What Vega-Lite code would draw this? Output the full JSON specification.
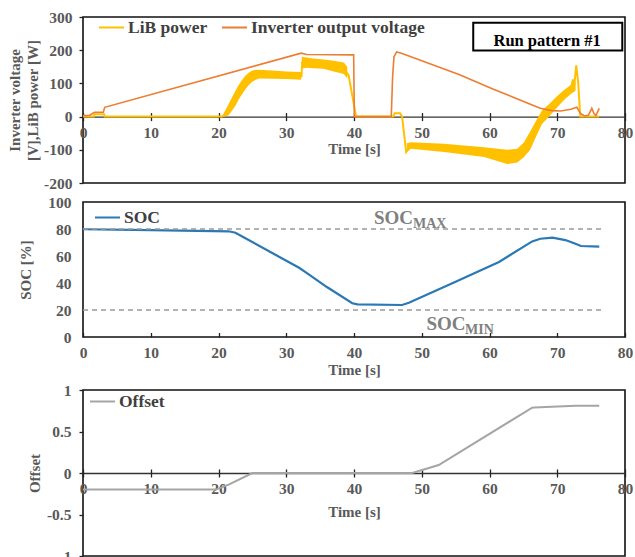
{
  "$schema": "https://vega.github.io/schema/vega-lite/v6.json",
  "background": "white",
  "padding": {"left": 6, "top": 9, "right": 0, "bottom": 0},
  "bounds": "flush",
  "spacing": 19,
  "config": {
    "font": "Liberation Serif",
    "view": {"stroke": "#111111", "strokeWidth": 1.6},
    "axis": {
      "grid": false,
      "labelFont": "Liberation Serif",
      "labelFontWeight": "bold",
      "labelFontSize": 15.5,
      "labelColor": "#595959",
      "titleFont": "Liberation Serif",
      "titleFontWeight": "bold",
      "titleFontSize": 15,
      "titleColor": "#595959",
      "tickColor": "#222222",
      "tickWidth": 1.3,
      "domainColor": "#333333",
      "domainWidth": 1.3,
      "labelOverlap": false,
      "labelBound": false
    },
    "legend": {
      "labelFont": "Liberation Serif",
      "labelFontWeight": "bold",
      "labelFontSize": 17.5,
      "labelColor": "#404040",
      "labelLimit": 400,
      "symbolType": "stroke",
      "symbolSize": 625,
      "symbolStrokeWidth": 2,
      "padding": 0,
      "labelOffset": 3,
      "title": null
    }
  },
  "datasets": {
    "band": [
      {"seg": "a", "t": 20.5, "lo": 0, "hi": 0},
      {"seg": "a", "t": 21, "lo": 0, "hi": 18},
      {"seg": "a", "t": 21.5, "lo": 4, "hi": 38},
      {"seg": "a", "t": 22, "lo": 18, "hi": 58},
      {"seg": "a", "t": 22.5, "lo": 33, "hi": 78},
      {"seg": "a", "t": 23, "lo": 52, "hi": 96},
      {"seg": "a", "t": 23.5, "lo": 68, "hi": 111},
      {"seg": "a", "t": 24, "lo": 83, "hi": 124},
      {"seg": "a", "t": 24.5, "lo": 96, "hi": 133},
      {"seg": "a", "t": 25, "lo": 105, "hi": 139},
      {"seg": "a", "t": 25.5, "lo": 111, "hi": 141},
      {"seg": "a", "t": 26, "lo": 115, "hi": 141},
      {"seg": "a", "t": 28, "lo": 114, "hi": 139},
      {"seg": "a", "t": 30, "lo": 113, "hi": 136},
      {"seg": "a", "t": 32.2, "lo": 111, "hi": 134},
      {"seg": "a", "t": 32.3, "lo": 145, "hi": 180},
      {"seg": "a", "t": 33, "lo": 147, "hi": 178},
      {"seg": "a", "t": 34, "lo": 146, "hi": 175},
      {"seg": "a", "t": 35.5, "lo": 144, "hi": 172},
      {"seg": "a", "t": 37, "lo": 136, "hi": 168},
      {"seg": "a", "t": 38.5, "lo": 128, "hi": 163},
      {"seg": "a", "t": 39, "lo": 115, "hi": 150},
      {"seg": "b", "t": 47.8, "lo": -107, "hi": -80},
      {"seg": "b", "t": 48.4, "lo": -97, "hi": -77},
      {"seg": "b", "t": 53.3, "lo": -107, "hi": -82},
      {"seg": "b", "t": 59.2, "lo": -122, "hi": -92},
      {"seg": "b", "t": 62.6, "lo": -143, "hi": -100},
      {"seg": "b", "t": 64.1, "lo": -138, "hi": -97},
      {"seg": "b", "t": 65.1, "lo": -122, "hi": -77},
      {"seg": "b", "t": 66, "lo": -100, "hi": -45},
      {"seg": "b", "t": 67, "lo": -55, "hi": -8},
      {"seg": "b", "t": 67.75, "lo": -22, "hi": 18},
      {"seg": "b", "t": 69, "lo": 5, "hi": 42},
      {"seg": "b", "t": 70, "lo": 28, "hi": 62},
      {"seg": "b", "t": 71, "lo": 50, "hi": 80},
      {"seg": "b", "t": 72, "lo": 68, "hi": 95},
      {"seg": "b", "t": 72.7, "lo": 78, "hi": 105}
    ],
    "lib": [
      {"t": 0, "p": 0}, {"t": 1.6, "p": 0}, {"t": 1.7, "p": 7}, {"t": 3.1, "p": 7}, {"t": 3.2, "p": 0},
      {"t": 20.5, "p": 0}, {"t": 21, "p": 8}, {"t": 21.5, "p": 20}, {"t": 22, "p": 38}, {"t": 22.5, "p": 55},
      {"t": 23, "p": 74}, {"t": 23.5, "p": 90}, {"t": 24, "p": 104}, {"t": 24.5, "p": 115}, {"t": 25, "p": 122},
      {"t": 25.5, "p": 126}, {"t": 26, "p": 128}, {"t": 30, "p": 125}, {"t": 32.25, "p": 122}, {"t": 32.35, "p": 162},
      {"t": 35, "p": 158}, {"t": 38.5, "p": 146}, {"t": 39.2, "p": 125}, {"t": 40.3, "p": 0}, {"t": 45.8, "p": 0},
      {"t": 46, "p": 10}, {"t": 46.8, "p": 10}, {"t": 47.1, "p": 0}, {"t": 47.7, "p": -107}, {"t": 48.4, "p": -87},
      {"t": 53.3, "p": -95}, {"t": 59.2, "p": -107}, {"t": 62.6, "p": -121}, {"t": 64.1, "p": -118}, {"t": 65.1, "p": -100},
      {"t": 66, "p": -72}, {"t": 67, "p": -32}, {"t": 67.75, "p": -2}, {"t": 69, "p": 24}, {"t": 70, "p": 45},
      {"t": 71, "p": 65}, {"t": 72, "p": 82}, {"t": 72.3, "p": 112}, {"t": 72.5, "p": 92}, {"t": 72.8, "p": 154},
      {"t": 73.1, "p": 100}, {"t": 73.4, "p": 0}, {"t": 76.2, "p": 0}
    ],
    "inv": [
      {"t": 0, "v": 3}, {"t": 1, "v": 4}, {"t": 1.7, "v": 13}, {"t": 3.0, "v": 13}, {"t": 3.2, "v": 28},
      {"t": 32.2, "v": 191}, {"t": 33, "v": 187}, {"t": 39.95, "v": 186}, {"t": 40.05, "v": 0}, {"t": 45.5, "v": 0},
      {"t": 45.7, "v": 120}, {"t": 45.9, "v": 180}, {"t": 46.3, "v": 195}, {"t": 47, "v": 191}, {"t": 55.5, "v": 127},
      {"t": 60.4, "v": 84}, {"t": 66.3, "v": 35}, {"t": 67.5, "v": 25}, {"t": 69.2, "v": 18}, {"t": 70.5, "v": 17},
      {"t": 72, "v": 22}, {"t": 72.9, "v": 28}, {"t": 73.4, "v": 10}, {"t": 74, "v": 2}, {"t": 74.6, "v": 4},
      {"t": 75.1, "v": 25}, {"t": 75.4, "v": 10}, {"t": 75.7, "v": 3}, {"t": 76.2, "v": 25}
    ],
    "soc": [
      {"t": 0, "s": 79.8}, {"t": 10, "s": 79.2}, {"t": 21.5, "s": 78.3}, {"t": 22.5, "s": 77.2}, {"t": 23.5, "s": 74.5},
      {"t": 28, "s": 62}, {"t": 31.9, "s": 51.3}, {"t": 33, "s": 47.5}, {"t": 36, "s": 37}, {"t": 39.75, "s": 25},
      {"t": 40.5, "s": 24.2}, {"t": 47.1, "s": 23.7}, {"t": 48.1, "s": 25.4}, {"t": 55, "s": 41}, {"t": 61.4, "s": 55.6},
      {"t": 66.3, "s": 70.8}, {"t": 67.5, "s": 72.8}, {"t": 69.3, "s": 73.6}, {"t": 71.2, "s": 71.8}, {"t": 72.5, "s": 69.5},
      {"t": 73.5, "s": 67.4}, {"t": 76.2, "s": 66.9}
    ],
    "offset": [
      {"t": 0, "o": -0.2}, {"t": 19.6, "o": -0.2}, {"t": 21.5, "o": -0.14}, {"t": 25, "o": 0}, {"t": 48.6, "o": 0},
      {"t": 52.5, "o": 0.096}, {"t": 66.3, "o": 0.787}, {"t": 66.6, "o": 0.79}, {"t": 72.7, "o": 0.81}, {"t": 76.2, "o": 0.81}
    ],
    "one": [{"k": 1}]
  },
  "resolve": {"scale": {"color": "independent"}, "legend": {"color": "independent"}},
  "vconcat": [
    {
      "width": 542,
      "height": 166,
      "resolve": {"axis": {"x": "independent"}},
      "layer": [
        {
          "data": {"name": "band"},
          "mark": {"type": "area", "color": "#FFC000", "opacity": 1},
          "encoding": {
            "x": {"field": "t", "type": "quantitative", "scale": {"domain": [0, 80], "nice": false}, "axis": null},
            "y": {"field": "lo", "type": "quantitative", "scale": {"domain": [-200, 300], "nice": false},
                  "axis": {"values": [-200, -100, 0, 100, 200, 300], "domain": false, "tickSize": 4, "labelPadding": 7, "labelOverlap": false, "labelExpr": "replace(datum.label, '−', '-')", "title": ["Inverter voltage", "[V],LiB power [W]"], "titleLineHeight": 18, "titlePadding": 3}},
            "y2": {"field": "hi"},
            "detail": {"field": "seg"}
          }
        },
        {
          "data": {"name": "lib"},
          "mark": {"type": "line", "strokeWidth": 2},
          "encoding": {
            "x": {"field": "t", "type": "quantitative",
                  "axis": {"orient": "bottom", "offset": -66.4, "values": [0, 10, 20, 30, 40, 50, 60, 70, 80], "tickSize": 4, "labelPadding": 5, "labelFlush": false, "labelOverlap": false, "title": "Time [s]", "titlePadding": 0}},
            "y": {"field": "p", "type": "quantitative",
                  "axis": {"values": [-200, -100, 0, 100, 200, 300], "domain": false, "tickSize": 4, "labelPadding": 7, "labelOverlap": false, "labelExpr": "replace(datum.label, '−', '-')", "title": ["Inverter voltage", "[V],LiB power [W]"], "titleLineHeight": 18, "titlePadding": 3}},
            "color": {"datum": "LiB power", "scale": {"domain": ["LiB power", "Inverter output voltage"], "range": ["#FFC000", "#ED7D31"]},
                      "legend": {"orient": "none", "direction": "horizontal", "legendX": 15, "legendY": -3, "columnPadding": 10}}
          }
        },
        {
          "data": {"name": "inv"},
          "mark": {"type": "line", "strokeWidth": 1.6},
          "encoding": {
            "x": {"field": "t", "type": "quantitative",
                  "axis": {"orient": "bottom", "offset": -66.4, "values": [0, 10, 20, 30, 40, 50, 60, 70, 80], "tickSize": -4, "labels": false, "domain": false, "title": null}},
            "y": {"field": "v", "type": "quantitative",
                  "axis": {"values": [-200, -100, 0, 100, 200, 300], "domain": false, "tickSize": 4, "labelPadding": 7, "labelOverlap": false, "labelExpr": "replace(datum.label, '−', '-')", "title": ["Inverter voltage", "[V],LiB power [W]"], "titleLineHeight": 18, "titlePadding": 3}},
            "color": {"datum": "Inverter output voltage"}
          }
        },
        {
          "data": {"name": "one"},
          "mark": {"type": "rect", "fill": "white", "stroke": "black", "strokeWidth": 2},
          "encoding": {
            "x": {"datum": 57.6, "type": "quantitative", "axis": null},
            "x2": {"datum": 79.6},
            "y": {"datum": 283, "type": "quantitative",
                  "axis": {"values": [-200, -100, 0, 100, 200, 300], "domain": false, "tickSize": 4, "labelPadding": 7, "labelOverlap": false, "labelExpr": "replace(datum.label, '−', '-')", "title": ["Inverter voltage", "[V],LiB power [W]"], "titleLineHeight": 18, "titlePadding": 3}},
            "y2": {"datum": 199}
          }
        },
        {
          "data": {"name": "one"},
          "mark": {"type": "text", "text": "Run pattern #1", "font": "Liberation Serif", "fontWeight": "bold", "fontSize": 16.5, "color": "black", "baseline": "middle", "align": "center"},
          "encoding": {
            "x": {"datum": 68.5, "type": "quantitative", "axis": null},
            "y": {"datum": 229, "type": "quantitative",
                  "axis": {"values": [-200, -100, 0, 100, 200, 300], "domain": false, "tickSize": 4, "labelPadding": 7, "labelOverlap": false, "labelExpr": "replace(datum.label, '−', '-')", "title": ["Inverter voltage", "[V],LiB power [W]"], "titleLineHeight": 18, "titlePadding": 3}}
          }
        }
      ]
    },
    {
      "width": 542,
      "height": 135,
      "layer": [
        {
          "data": {"name": "soc"},
          "mark": {"type": "line", "strokeWidth": 2.2},
          "encoding": {
            "x": {"field": "t", "type": "quantitative", "scale": {"domain": [0, 80], "nice": false},
                  "axis": {"values": [0, 10, 20, 30, 40, 50, 60, 70, 80], "domain": false, "tickSize": -4.5, "labelPadding": 13, "labelFlush": false, "labelOverlap": false, "title": "Time [s]", "titlePadding": 1}},
            "y": {"field": "s", "type": "quantitative", "scale": {"domain": [0, 100], "nice": false},
                  "axis": {"values": [0, 20, 40, 60, 80, 100], "domain": false, "ticks": false, "labelPadding": 12, "labelOverlap": false, "title": "SOC [%]", "titlePadding": 14}},
            "color": {"datum": "SOC", "scale": {"domain": ["SOC"], "range": ["#2A78B4"]},
                      "legend": {"orient": "none", "legendX": 11, "legendY": 2}}
          }
        },
        {
          "data": {"name": "one"},
          "mark": {"type": "rule", "color": "#9A9A9A", "strokeWidth": 1.3, "strokeDash": [5, 4]},
          "encoding": {
            "x": {"datum": 0, "type": "quantitative",
                  "axis": {"values": [0, 10, 20, 30, 40, 50, 60, 70, 80], "domain": false, "tickSize": -4.5, "labelPadding": 13, "labelFlush": false, "labelOverlap": false, "title": "Time [s]", "titlePadding": 1}},
            "x2": {"datum": 76.7},
            "y": {"datum": 80, "type": "quantitative",
                  "axis": {"values": [0, 20, 40, 60, 80, 100], "domain": false, "ticks": false, "labelPadding": 12, "labelOverlap": false, "title": "SOC [%]", "titlePadding": 14}}
          }
        },
        {
          "data": {"name": "one"},
          "mark": {"type": "rule", "color": "#9A9A9A", "strokeWidth": 1.3, "strokeDash": [5, 4]},
          "encoding": {
            "x": {"datum": 0, "type": "quantitative",
                  "axis": {"values": [0, 10, 20, 30, 40, 50, 60, 70, 80], "domain": false, "tickSize": -4.5, "labelPadding": 13, "labelFlush": false, "labelOverlap": false, "title": "Time [s]", "titlePadding": 1}},
            "x2": {"datum": 76.7},
            "y": {"datum": 20, "type": "quantitative",
                  "axis": {"values": [0, 20, 40, 60, 80, 100], "domain": false, "ticks": false, "labelPadding": 12, "labelOverlap": false, "title": "SOC [%]", "titlePadding": 14}}
          }
        },
        {
          "data": {"name": "one"},
          "mark": {"type": "text", "text": "SOC", "fontWeight": "bold", "fontSize": 19, "color": "#808080", "align": "left", "baseline": "alphabetic"},
          "encoding": {
            "x": {"datum": 42.95, "type": "quantitative",
                  "axis": {"values": [0, 10, 20, 30, 40, 50, 60, 70, 80], "domain": false, "tickSize": -4.5, "labelPadding": 13, "labelFlush": false, "labelOverlap": false, "title": "Time [s]", "titlePadding": 1}},
            "y": {"datum": 84, "type": "quantitative",
                  "axis": {"values": [0, 20, 40, 60, 80, 100], "domain": false, "ticks": false, "labelPadding": 12, "labelOverlap": false, "title": "SOC [%]", "titlePadding": 14}}
          }
        },
        {
          "data": {"name": "one"},
          "mark": {"type": "text", "text": "MAX", "fontWeight": "bold", "fontSize": 14, "color": "#808080", "align": "left", "baseline": "alphabetic"},
          "encoding": {
            "x": {"datum": 48.7, "type": "quantitative",
                  "axis": {"values": [0, 10, 20, 30, 40, 50, 60, 70, 80], "domain": false, "tickSize": -4.5, "labelPadding": 13, "labelFlush": false, "labelOverlap": false, "title": "Time [s]", "titlePadding": 1}},
            "y": {"datum": 81, "type": "quantitative",
                  "axis": {"values": [0, 20, 40, 60, 80, 100], "domain": false, "ticks": false, "labelPadding": 12, "labelOverlap": false, "title": "SOC [%]", "titlePadding": 14}}
          }
        },
        {
          "data": {"name": "one"},
          "mark": {"type": "text", "text": "SOC", "fontWeight": "bold", "fontSize": 19, "color": "#808080", "align": "left", "baseline": "alphabetic"},
          "encoding": {
            "x": {"datum": 50.7, "type": "quantitative",
                  "axis": {"values": [0, 10, 20, 30, 40, 50, 60, 70, 80], "domain": false, "tickSize": -4.5, "labelPadding": 13, "labelFlush": false, "labelOverlap": false, "title": "Time [s]", "titlePadding": 1}},
            "y": {"datum": 5.2, "type": "quantitative",
                  "axis": {"values": [0, 20, 40, 60, 80, 100], "domain": false, "ticks": false, "labelPadding": 12, "labelOverlap": false, "title": "SOC [%]", "titlePadding": 14}}
          }
        },
        {
          "data": {"name": "one"},
          "mark": {"type": "text", "text": "MIN", "fontWeight": "bold", "fontSize": 14, "color": "#808080", "align": "left", "baseline": "alphabetic"},
          "encoding": {
            "x": {"datum": 56.4, "type": "quantitative",
                  "axis": {"values": [0, 10, 20, 30, 40, 50, 60, 70, 80], "domain": false, "tickSize": -4.5, "labelPadding": 13, "labelFlush": false, "labelOverlap": false, "title": "Time [s]", "titlePadding": 1}},
            "y": {"datum": 2.2, "type": "quantitative",
                  "axis": {"values": [0, 20, 40, 60, 80, 100], "domain": false, "ticks": false, "labelPadding": 12, "labelOverlap": false, "title": "SOC [%]", "titlePadding": 14}}
          }
        }
      ]
    },
    {
      "width": 542,
      "height": 15,
      "data": {"values": []},
      "mark": {"type": "point", "opacity": 0},
      "view": {"stroke": null}
    },
    {
      "width": 542,
      "height": 166,
      "resolve": {"axis": {"x": "independent"}},
      "layer": [
        {
          "data": {"name": "offset"},
          "mark": {"type": "line", "strokeWidth": 2, "color": "#A5A5A5"},
          "encoding": {
            "x": {"field": "t", "type": "quantitative", "scale": {"domain": [0, 80], "nice": false},
                  "axis": {"orient": "bottom", "offset": -83, "values": [0, 10, 20, 30, 40, 50, 60, 70, 80], "tickSize": 4, "labelPadding": 4, "labelFlush": false, "labelOverlap": false, "title": "Time [s]", "titlePadding": 8}},
            "y": {"field": "o", "type": "quantitative", "scale": {"domain": [-1, 1], "nice": false},
                  "axis": {"values": [-1, -0.5, 0, 0.5, 1], "domain": false, "tickSize": 4, "labelPadding": 8, "labelOverlap": false, "labelExpr": "replace(format(datum.value, '~g'), '−', '-')", "title": "Offset", "titlePadding": 4}},
            "color": {"datum": "Offset", "scale": {"domain": ["Offset"], "range": ["#A5A5A5"]},
                      "legend": {"orient": "none", "legendX": 6, "legendY": -2}}
          }
        },
        {
          "data": {"name": "offset"},
          "mark": {"type": "line", "opacity": 0},
          "encoding": {
            "x": {"field": "t", "type": "quantitative",
                  "axis": {"orient": "bottom", "offset": -83, "values": [0, 10, 20, 30, 40, 50, 60, 70, 80], "tickSize": -4, "labels": false, "domain": false, "title": null}},
            "y": {"field": "o", "type": "quantitative",
                  "axis": {"values": [-1, -0.5, 0, 0.5, 1], "domain": false, "tickSize": 4, "labelPadding": 8, "labelOverlap": false, "labelExpr": "replace(format(datum.value, '~g'), '−', '-')", "title": "Offset", "titlePadding": 4}}
          }
        }
      ]
    }
  ]
}
